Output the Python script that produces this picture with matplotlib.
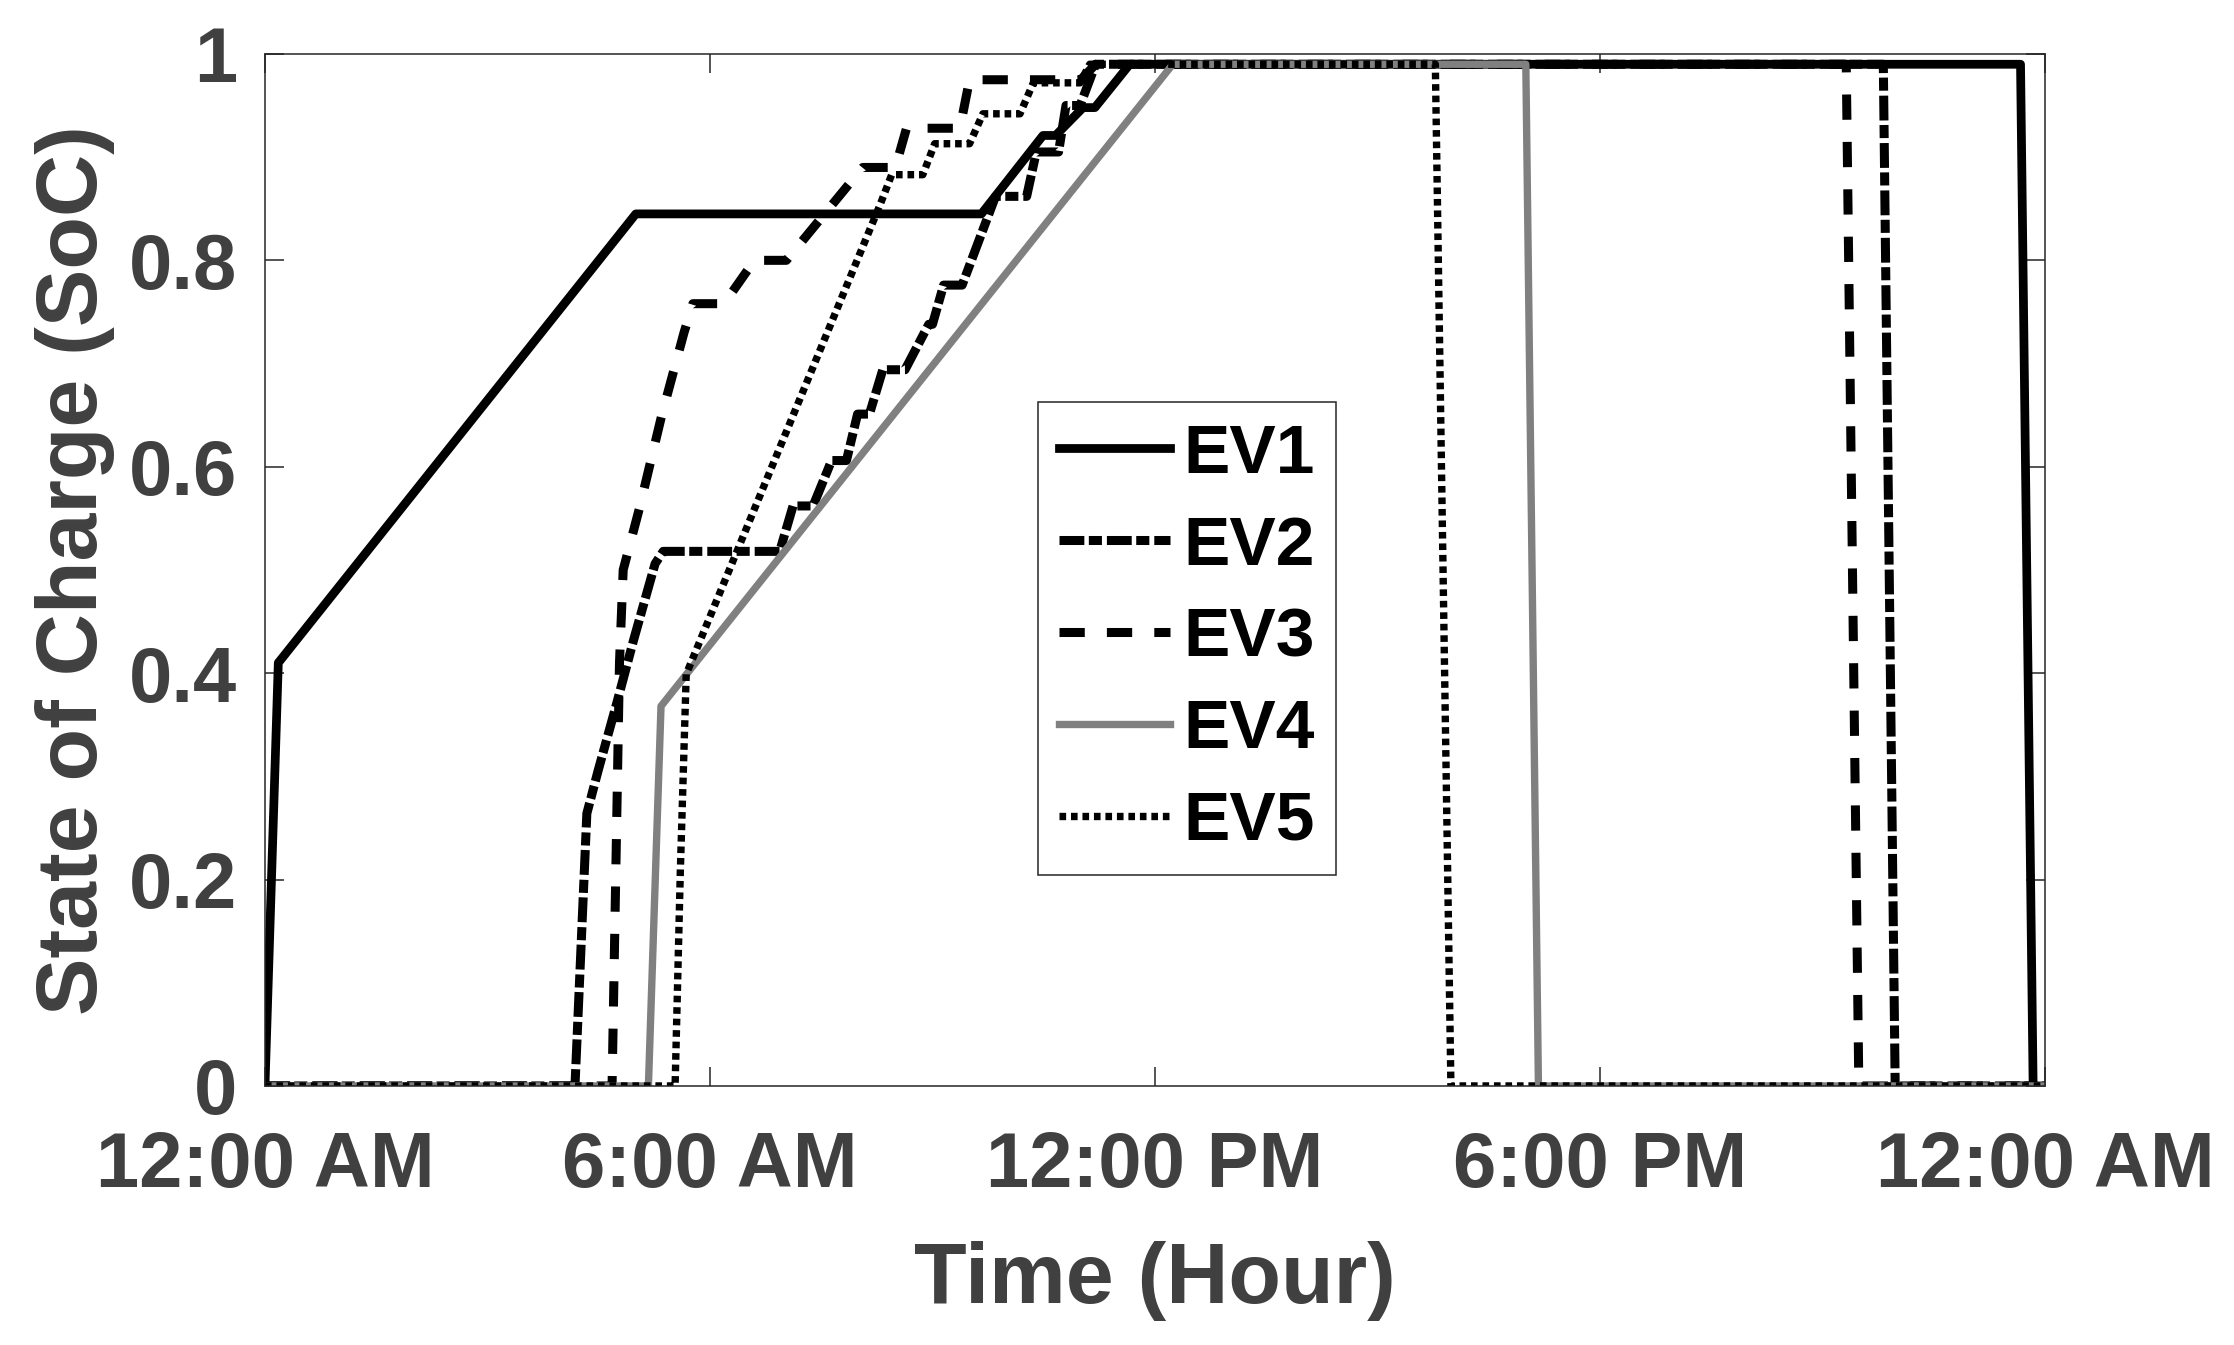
import matplotlib
matplotlib.use("Agg")
import matplotlib.pyplot as plt

plt.rcParams['font.family'] = ['Liberation Sans', 'DejaVu Sans']
plt.rcParams['font.weight'] = 'bold'
plt.rcParams['axes.labelweight'] = 'bold'

# hour of day vs state of charge
hours_ev1 = [0, 0.18, 5.0, 9.66, 10.49, 10.66, 11.03, 11.19, 11.66, 23.67, 23.84, 24]
soc_ev1 = [0, 0.41, 0.845, 0.845, 0.921, 0.921, 0.948, 0.948, 0.99, 0.99, 0, 0]

hours_ev2 = [0, 4.18, 4.34, 4.49, 4.74, 4.97, 5.26, 5.37, 6.94, 7.12, 7.39, 7.64, 7.84,
             7.99, 8.15, 8.33, 8.63, 8.95, 9.0, 9.15, 9.40, 9.85, 10.27, 10.40, 10.70,
             10.80, 10.99, 11.20, 21.82, 21.98, 24]
soc_ev2 = [0, 0, 0.264, 0.305, 0.37, 0.432, 0.506, 0.518, 0.518, 0.562, 0.562, 0.606, 0.606,
           0.651, 0.651, 0.694, 0.694, 0.738, 0.738, 0.776, 0.776, 0.862, 0.862, 0.905, 0.905,
           0.95, 0.95, 0.99, 0.99, 0, 0]

hours_ev3 = [0, 4.68, 4.78, 4.83, 5.05, 5.35, 5.65, 5.77, 6.19, 6.60, 7.03, 8.06, 8.50,
             8.65, 9.37, 9.50, 11.00, 11.20, 21.32, 21.49, 24]
soc_ev3 = [0, 0, 0.41, 0.50, 0.56, 0.65, 0.73, 0.758, 0.758, 0.80, 0.80, 0.89, 0.89,
           0.928, 0.928, 0.975, 0.975, 0.99, 0.99, 0, 0]

hours_ev4 = [0, 5.17, 5.34, 12.24, 17.0, 17.17, 24]
soc_ev4 = [0, 0, 0.368, 0.99, 0.99, 0, 0]

hours_ev5 = [0, 5.53, 5.60, 5.68, 8.30, 8.45, 8.87, 9.03, 9.50, 9.68, 10.18, 10.36, 10.99,
             11.12, 15.78, 15.99, 24]
soc_ev5 = [0, 0, 0.207, 0.399, 0.855, 0.883, 0.883, 0.913, 0.913, 0.942, 0.942, 0.972, 0.972,
           0.99, 0.99, 0, 0]

tick_hours = [0, 6, 12, 18, 24]
tick_labels = ['12:00 AM', '6:00 AM', '12:00 PM', '6:00 PM', '12:00 AM']
soc_ticks = [0, 0.2, 0.4, 0.6, 0.8, 1]
soc_labels = ['0', '0.2', '0.4', '0.6', '0.8', '1']

txt_color = '#404040'
axis_color = '#262626'

fig = plt.figure(figsize=(22.34, 13.45), dpi=100)
ax = fig.add_axes([0.1186, 0.1926, 0.7968, 0.7673])

ax.plot(hours_ev1, soc_ev1, color='black', lw=6.3, label='EV1')
ax.plot(hours_ev2, soc_ev2, color='black', lw=6.5, linestyle=(0, (2.75, 0.5, 1.45, 0.55)), label='EV2')
ax.plot(hours_ev3, soc_ev3, color='black', lw=6.5, linestyle=(0, (2.8, 2.45)), label='EV3')
ax.plot(hours_ev4, soc_ev4, color='#808080', lw=5.3, label='EV4')
ax.plot(hours_ev5, soc_ev5, color='black', lw=5.3, linestyle=(0, (0.9, 0.66)), label='EV5')

ax.set_xlim(0, 24)
ax.set_ylim(0, 1)
ax.set_xticks(tick_hours)
ax.set_xticklabels(tick_labels)
ax.set_yticks(soc_ticks)
ax.set_yticklabels(soc_labels)

for sp in ax.spines.values():
    sp.set_color(axis_color)
    sp.set_linewidth(1.1)

ax.tick_params(axis='both', direction='in', length=14, width=1.1, color=axis_color,
               labelsize=56, labelcolor=txt_color, top=True, right=True)
ax.tick_params(axis='x', pad=32)
ax.tick_params(axis='y', pad=20)

ax.set_xlabel('Time (Hour)', fontsize=62, color=txt_color)
ax.xaxis.label.set_va('baseline')
ax.xaxis.set_label_coords(0.5, -0.2103)
ax.set_ylabel('State of Charge (SoC)', fontsize=62, color=txt_color)
ax.yaxis.label.set_va('baseline')
ax.yaxis.set_label_coords(-0.0944, 0.5)

leg = ax.legend(loc='upper left', bbox_to_anchor=(0.4343, 0.6628), fontsize=50,
                handlelength=1.6, handletextpad=0.2, labelspacing=0.40,
                borderpad=0.3, borderaxespad=0, fancybox=False, framealpha=1)
leg.get_frame().set_edgecolor(axis_color)
leg.get_frame().set_linewidth(1.1)

fig.savefig('out.png', dpi=100)
